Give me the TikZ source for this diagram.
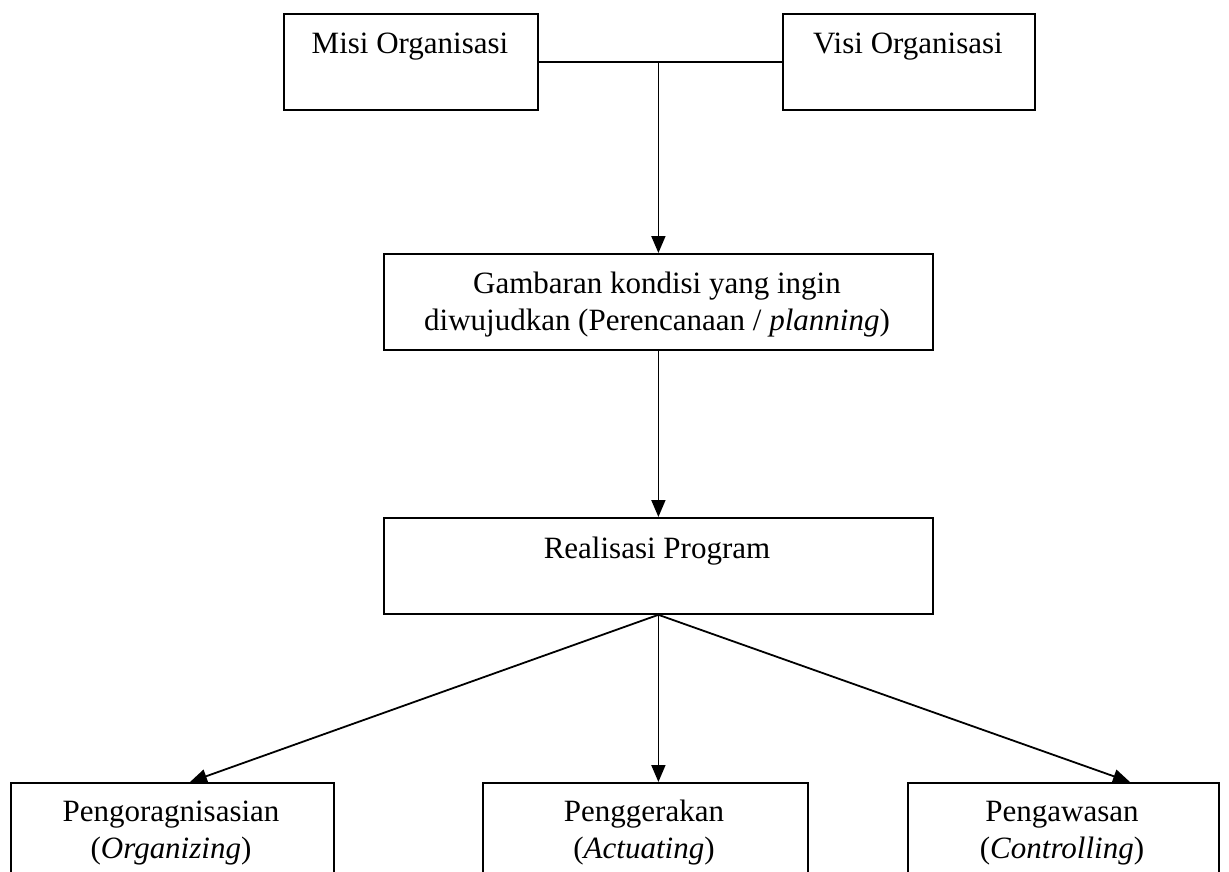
\documentclass[tikz,border=0pt]{standalone}
\usepackage{fontspec}
\setmainfont{Liberation Serif}
\usetikzlibrary{arrows.meta,positioning,calc}
\begin{document}
\begin{tikzpicture}[x=1pt,y=-1pt,
  box/.style={draw,line width=1.8pt,minimum width=#1,anchor=north west,inner sep=0pt},
  txt/.style={anchor=base,align=center,inner sep=0pt,font=\fontsize{31}{37}\selectfont},
  link/.style={line width=1.8pt},
  arr/.style={line width=1.8pt,-{Triangle[length=17pt,width=14pt]}}]
\clip (0,0) rectangle (1229,871);
\useasboundingbox (0,0) rectangle (1229,871);
% top row
\node[box=254pt,minimum height=96pt] (misi) at (283,13) {};
\node[box=252pt,minimum height=96pt] (visi) at (782,13) {};
\node[txt] at (410,53) {Misi Organisasi};
\node[txt] at (908,53) {Visi Organisasi};
% planning and programme (base anchor of a two-line node sits on its last line)
\node[box=549pt,minimum height=96pt] (plan) at (383,253) {};
\node[txt] at (657,330) {Gambaran kondisi yang ingin\\diwujudkan (Perencanaan / \textit{planning})};
\node[box=549pt,minimum height=96pt] (prog) at (383,517) {};
\node[txt] at (657,558) {Realisasi Program};
% functions (boxes run past the lower edge)
\node[box=323pt,minimum height=140pt] (org) at (10,782) {};
\node[box=325pt,minimum height=140pt] (act) at (482,782) {};
\node[box=311pt,minimum height=140pt] (ctl) at (907,782) {};
\node[txt] at (171,858) {Pengoragnisasian\\(\textit{Organizing})};
\node[txt] at (644,858) {Penggerakan\\(\textit{Actuating})};
\node[txt] at (1062,858) {Pengawasan\\(\textit{Controlling})};
% connectors
\coordinate (join) at (misi.east -| plan.north);
\draw[link] (misi.east) -- (visi.west);
\draw[arr] (join) -- (plan.north);
\draw[arr] (plan.south) -- (prog.north);
\draw[arr] (prog.south) -- ([xshift=180pt]org.north west);
\draw[arr] (prog.south) -- (prog.south |- act.north);
\draw[arr] (prog.south) -- ([xshift=223pt]ctl.north west);
\end{tikzpicture}
\end{document}
